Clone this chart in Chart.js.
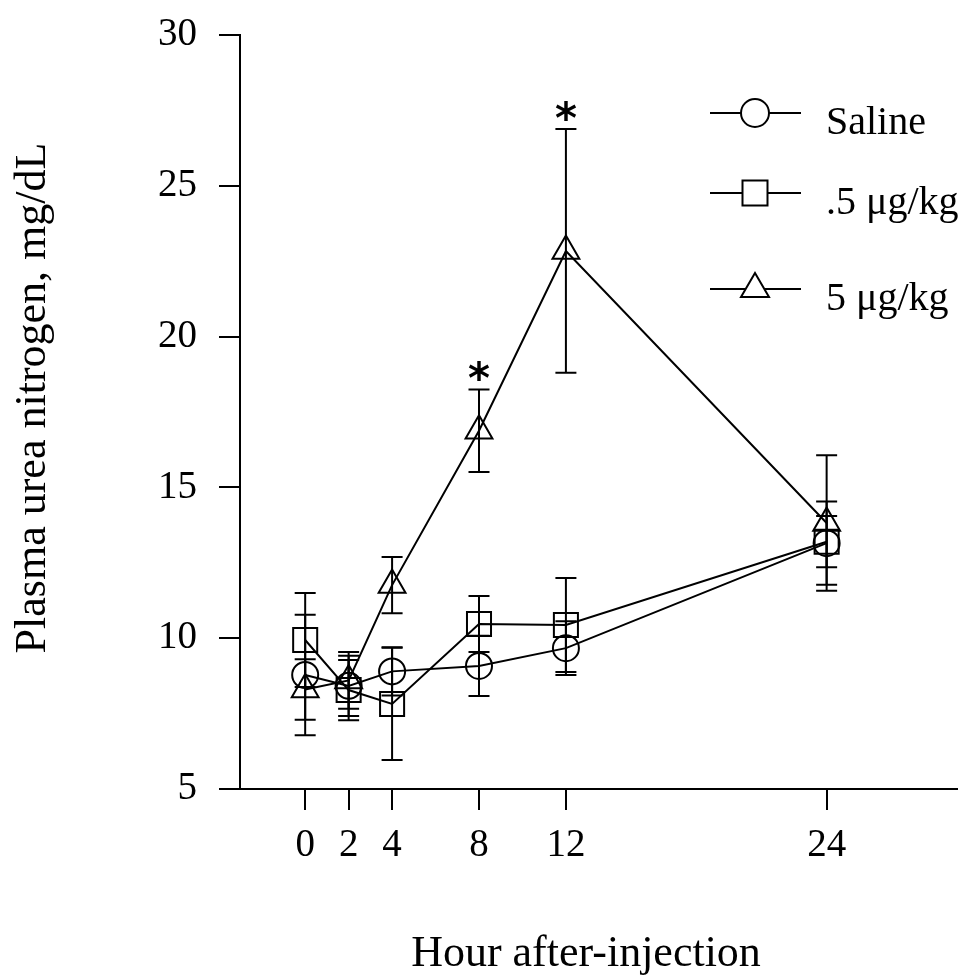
<!DOCTYPE html>
<html>
<head>
<meta charset="utf-8">
<script src="https://cdn.jsdelivr.net/npm/chart.js@4.4.1/dist/chart.umd.min.js"></script>
<style>
  body { margin: 0; background: #fff; overflow: hidden; }
  #wrap { width: 967px; height: 977px; }
</style>
</head>
<body>
<div id="wrap"><canvas id="bunChart"></canvas></div>
<script>
// Data
const hours = [0, 2, 4, 8, 12, 24];
const yTicks = [5, 10, 15, 20, 25, 30];
const seriesNames = ['Saline', '.5 \u03bcg/kg', '5 \u03bcg/kg'];
const saline = [8.78, 8.42, 8.9, 9.08, 9.67, 13.15];
const salineErr = [2.0, 1.0, 0.8, 1.0, 0.89, 1.38];
const lowDose = [9.94, 8.28, 7.82, 10.47, 10.44, 13.2];
const lowDoseErr = [1.56, 1.0, 1.86, 0.93, 1.56, 0.85];
const highDose = [8.3, 8.6, 11.76, 16.88, 22.84, 13.82];
const highDoseErr = [1.0, 0.94, 0.93, 1.37, 4.04, 2.25];
const starHours = [8, 12];

const serif = "'Liberation Serif', 'Times New Roman', serif";
const pointStyles = ['circle', 'rect', 'triangle'];
const pointSizes = [13, 17, 15.5];

const errSets = [[saline, salineErr], [lowDose, lowDoseErr], [highDose, highDoseErr]];

const drawMarker = (ctx, style, x, y) => {
	ctx.beginPath();
	if (style === 'circle') {
		ctx.arc(x, y, 14, 0, Math.PI * 2);
	} else if (style === 'rect') {
		ctx.rect(x - 12.5, y - 12.5, 25, 25);
	} else {
		ctx.moveTo(x, y - 16);
		ctx.lineTo(x + 14, y + 8);
		ctx.lineTo(x - 14, y + 8);
		ctx.closePath();
	}
	ctx.fillStyle = '#fff';
	ctx.fill();
	ctx.stroke();
};

const extras = {
	id: 'extras',
	afterDatasetsDraw: (chart) => {
		const ctx = chart.ctx;
		const x = chart.scales.x;
		const y = chart.scales.y;
		ctx.save();
		ctx.strokeStyle = '#000';
		ctx.lineWidth = 2;
		// error bars
		errSets.forEach(([vals, errs]) => {
			vals.forEach((v, i) => {
				const px = x.getPixelForValue(hours[i]);
				const top = y.getPixelForValue(v + errs[i]);
				const bot = y.getPixelForValue(v - errs[i]);
				ctx.beginPath();
				ctx.moveTo(px, top);
				ctx.lineTo(px, bot);
				ctx.moveTo(px - 10.5, top);
				ctx.lineTo(px + 10.5, top);
				ctx.moveTo(px - 10.5, bot);
				ctx.lineTo(px + 10.5, bot);
				ctx.stroke();
			});
		});
		// significance stars
		ctx.fillStyle = '#000';
		ctx.font = "bold 42px 'DejaVu Sans', sans-serif";
		ctx.textAlign = 'center';
		ctx.textBaseline = 'alphabetic';
		starHours.forEach(h => {
			const i = hours.indexOf(h);
			const px = x.getPixelForValue(h);
			const top = y.getPixelForValue(highDose[i] + highDoseErr[i]);
			ctx.fillText('*', px, top + 4);
		});
		ctx.restore();
	},
	afterDraw: (chart) => {
		const ctx = chart.ctx;
		ctx.save();
		ctx.fillStyle = '#000';
		ctx.strokeStyle = '#000';
		ctx.lineWidth = 2;
		// legend
		const rows = [113, 193, 289];
		ctx.font = `40px ${serif}`;
		ctx.textAlign = 'left';
		ctx.textBaseline = 'alphabetic';
		seriesNames.forEach((name, i) => {
			const ly = rows[i];
			ctx.beginPath();
			ctx.moveTo(710, ly);
			ctx.lineTo(801, ly);
			ctx.stroke();
			drawMarker(ctx, pointStyles[i], 755, ly);
			ctx.fillStyle = '#000';
			ctx.fillText(name, 826, ly + 21);
		});
		// axis titles
		ctx.font = `44px ${serif}`;
		ctx.textAlign = 'center';
		ctx.fillText('Hour after-injection', 586, 966);
		ctx.translate(45, 398);
		ctx.rotate(-Math.PI / 2);
		ctx.fillText('Plasma urea nitrogen, mg/dL', 0, 0);
		ctx.restore();
	}
};

const datasets = [saline, lowDose, highDose].map((vals, i) => ({
	label: seriesNames[i],
	data: vals.map((v, j) => ({ x: hours[j], y: v })),
	borderColor: '#000',
	borderWidth: 2,
	pointStyle: pointStyles[i],
	pointRadius: pointSizes[i],
	pointBorderWidth: 2,
	pointBorderColor: '#000',
	pointBackgroundColor: 'rgba(0,0,0,0)',
	tension: 0,
	fill: false,
	clip: false,
}));

new Chart(document.getElementById('bunChart').getContext('2d'), {
	type: 'line',
	data: { datasets: datasets },
	options: {
		responsive: true,
		maintainAspectRatio: false,
		animation: false,
		layout: { autoPadding: false, padding: { top: 35, right: 10, left: 0, bottom: 0 } },
		scales: {
			x: {
				type: 'linear',
				min: -3,
				max: 30,
				afterBuildTicks: (scale) => { scale.ticks = hours.map(v => ({ value: v })); },
				afterFit: (scale) => {
					scale.height = 188;
					scale.paddingLeft = 0;
					scale.paddingRight = 0;
				},
				grid: { drawOnChartArea: false, drawTicks: true, tickLength: 21, color: '#000', lineWidth: 2 },
				border: { color: '#000', width: 2 },
				ticks: { color: '#000', font: { family: serif, size: 39 }, padding: 12, autoSkip: false, maxRotation: 0 },
			},
			y: {
				min: 5,
				max: 30,
				afterBuildTicks: (scale) => { scale.ticks = yTicks.map(v => ({ value: v })); },
				afterFit: (scale) => {
					scale.width = 240;
					scale.paddingTop = 0;
					scale.paddingBottom = 0;
				},
				grid: { drawOnChartArea: false, drawTicks: true, tickLength: 21, color: '#000', lineWidth: 2 },
				border: { color: '#000', width: 2 },
				ticks: { color: '#000', font: { family: serif, size: 39 }, padding: 22 },
			}
		},
		plugins: {
			legend: { display: false },
			tooltip: { enabled: false },
		}
	},
	plugins: [extras]
});
</script>
</body>
</html>
